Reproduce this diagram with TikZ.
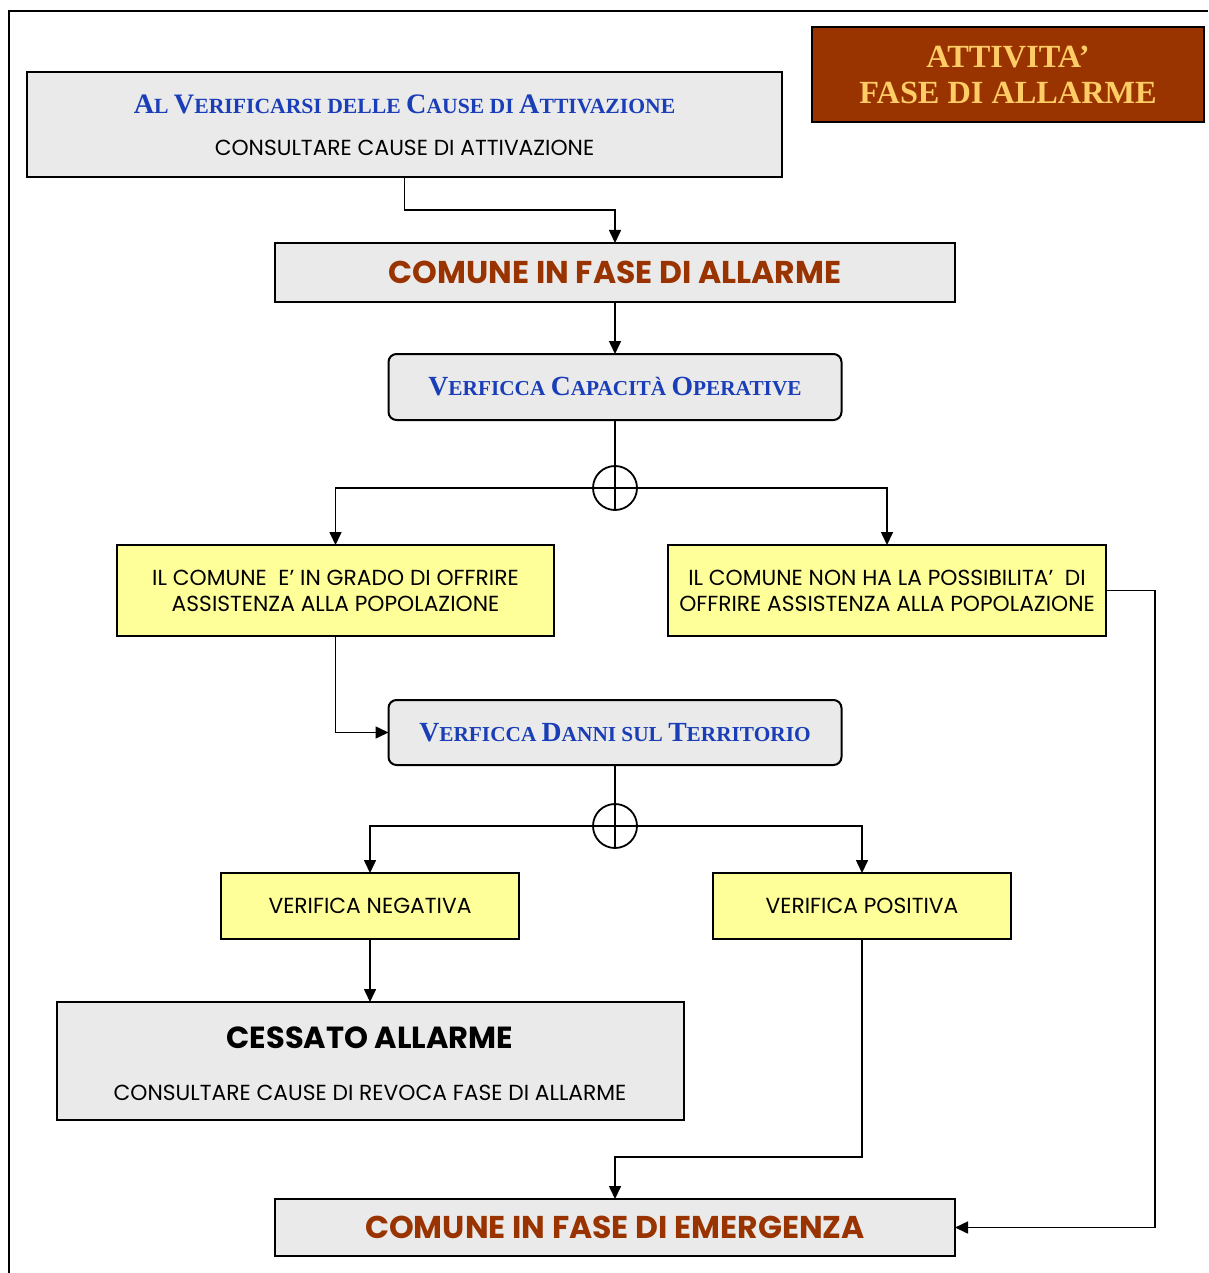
\documentclass[tikz,border=0pt]{standalone}
\usepackage{fontspec}
\setmainfont{Poppins}
\newfontfamily\titleserif{Liberation Serif}
\usetikzlibrary{arrows.meta}

\definecolor{boxgray}{HTML}{EAEAEA}
\definecolor{boxyellow}{HTML}{FFFF99}
\definecolor{rust}{HTML}{993300}
\definecolor{gold}{HTML}{FFCC66}
\definecolor{capblue}{HTML}{1A3DB8}

% hand-made small caps in bold serif
\newcommand\Bg[1]{{\fontsize{27.7}{30}\selectfont #1}}
\newcommand\Sm[1]{{\fontsize{21.3}{24}\selectfont #1}}

\begin{document}
\begin{tikzpicture}[x=1pt,y=-1pt,
  every node/.style={inner sep=0pt, outer sep=0pt},
  graybox/.style={draw=black, line width=2pt, fill=boxgray},
  roundbox/.style={graybox, rounded corners=8pt},
  yellowbox/.style={draw=black, line width=1.6pt, fill=boxyellow},
  plain/.style={font=\fontsize{21.8}{26}\selectfont, align=center},
  heading/.style={font=\fontsize{31.5}{34}\selectfont\bfseries, text=rust},
  scap/.style={font=\titleserif\bfseries\fontsize{21.3}{24}\selectfont, text=capblue},
  wire/.style={line width=1.6pt, draw=black},
  arr/.style={wire, -{Triangle[length=13pt, width=12pt]}},
  junction/.style={circle, draw=black, line width=1.8pt, minimum size=44pt},
]
\useasboundingbox (0,0) rectangle (1208,1273);

% page frame (top and left edges)
\draw[line width=2pt] (9,1273) -- (9,11) -- (1208,11);

% title block
\node[draw=black, line width=2pt, fill=rust, minimum width=392pt, minimum height=95pt,
      font=\titleserif\bfseries\fontsize{32.3}{36}\selectfont, text=gold, align=center]
  (title) at (1008,74.5) {ATTIVITA’\\FASE DI ALLARME};

% activation causes
\node[graybox, minimum width=755pt, minimum height=105pt] (start) at (404.5,124.5) {};
\node[scap, scale=1.017] (startT) at (404.5,104) {\Bg{A}\Sm{L} \Bg{V}\Sm{ERIFICARSI DELLE} \Bg{C}\Sm{AUSE DI} \Bg{A}\Sm{TTIVAZIONE}};
\node[plain] (startS) at (404.5,148) {CONSULTARE CAUSE DI ATTIVAZIONE};

% alarm phase
\node[graybox, minimum width=680pt, minimum height=59pt, heading] (alarm) at (615,272.5) {COMUNE IN FASE DI ALLARME};

% operative capacity check
\node[roundbox, minimum width=453pt, minimum height=66pt, scap] (capac) at (615,387)
  {\Bg{V}\Sm{ERFICCA} \Bg{C}\Sm{APACITÀ} \Bg{O}\Sm{PERATIVE}};

\node[junction] (j1) at (615,488) {};

\node[yellowbox, minimum width=437pt, minimum height=91pt, plain] (yes) at (335.5,590.5)
  {IL COMUNE\ \ E' IN GRADO DI OFFRIRE\\ASSISTENZA ALLA POPOLAZIONE};
\node[yellowbox, minimum width=438pt, minimum height=91pt, plain] (no) at (887,590.5)
  {IL COMUNE NON HA LA POSSIBILITA'\ \ DI\\OFFRIRE ASSISTENZA ALLA POPOLAZIONE};

% damage check
\node[roundbox, minimum width=453pt, minimum height=65pt, scap] (damage) at (615,732.5)
  {\Bg{V}\Sm{ERFICCA} \Bg{D}\Sm{ANNI SUL} \Bg{T}\Sm{ERRITORIO}};

\node[junction] (j2) at (615,826) {};

\node[yellowbox, minimum width=298pt, minimum height=66pt, plain] (neg) at (370,906) {VERIFICA NEGATIVA};
\node[yellowbox, minimum width=298pt, minimum height=66pt, plain] (pos) at (862,906) {VERIFICA POSITIVA};

% end of alarm
\node[graybox, minimum width=627pt, minimum height=118pt] (stop) at (370,1061) {};
\node[font=\fontsize{30.5}{34}\selectfont\bfseries] (stopT) at (370,1038) {CESSATO ALLARME};
\node[plain] (stopS) at (370,1093) {CONSULTARE CAUSE DI REVOCA FASE DI ALLARME};

% emergency phase
\node[graybox, minimum width=680pt, minimum height=57pt, heading] (emerg) at (615,1227.5) {COMUNE IN FASE DI EMERGENZA};

% connectors
\draw[arr] (start.south) -- ++(0,33) -| (alarm.north);
\draw[arr] (alarm.south) -- (capac.north);
\draw[wire] (capac.south) -- (j1.north);
\draw[wire] (j1.north) -- (j1.south);
\draw[wire] (j1.west) -- (j1.east);
\draw[arr] (j1.west) -| (yes.north);
\draw[arr] (j1.east) -| (no.north);
\draw[arr] (yes.south) |- (damage.west);
\draw[arr] (no.east) -- ++(49,0) |- (emerg.east);
\draw[wire] (damage.south) -- (j2.north);
\draw[wire] (j2.north) -- (j2.south);
\draw[wire] (j2.west) -- (j2.east);
\draw[arr] (j2.west) -| (neg.north);
\draw[arr] (j2.east) -| (pos.north);
\draw[arr] (neg.south) -- (stop.north);
\draw[arr] (pos.south) -- ++(0,218) -| (emerg.north);
\end{tikzpicture}
\end{document}
